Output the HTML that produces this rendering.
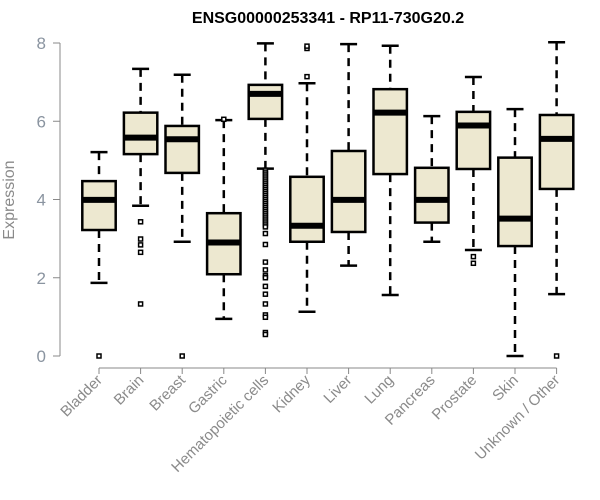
<!DOCTYPE html>
<html><head><meta charset="utf-8"><style>
body{margin:0;background:#fff;}
svg{display:block;font-family:"Liberation Sans",Arial,sans-serif;}
</style></head><body>
<svg id="chart" width="600" height="500" viewBox="0 0 600 500" xmlns="http://www.w3.org/2000/svg">
<text x="328" y="23" text-anchor="middle" font-size="16" font-weight="bold" fill="#000">ENSG00000253341 - RP11-730G20.2</text>
<text transform="translate(14,200) rotate(-90)" text-anchor="middle" font-size="16" fill="#8a8a8a">Expression</text>
<g id="plot"></g>
</svg>
<script>
const categories=["Bladder","Brain","Breast","Gastric","Hematopoietic cells","Kidney","Liver","Lung","Pancreas","Prostate","Skin","Unknown / Other"];
const whiskerLow=[1.87,3.84,2.92,0.95,4.79,1.13,2.31,1.56,2.92,2.71,0.0,1.58];
const q1=[3.22,5.16,4.68,2.09,6.06,2.92,3.17,4.65,3.41,4.78,2.81,4.27];
const medians=[3.99,5.58,5.54,2.90,6.70,3.33,3.99,6.22,3.99,5.89,3.51,5.55];
const q3=[4.47,6.22,5.88,3.65,6.93,4.58,5.24,6.82,4.81,6.24,5.07,6.16];
const whiskerHigh=[5.21,7.34,7.19,6.03,7.99,6.97,7.97,7.93,6.13,7.13,6.31,8.02];
const outliers=[[0],[3.43,2.99,2.84,2.65,1.33],[0],[6.05],
[4.75,4.7,4.65,4.6,4.55,4.5,4.45,4.4,4.35,4.3,4.25,4.2,4.15,4.1,4.05,4.0,3.95,3.9,3.85,3.8,3.75,3.7,3.65,3.6,3.55,3.5,3.45,3.4,3.35,3.3,3.13,2.85,2.4,2.2,2.05,2.0,1.78,1.58,1.33,1.05,0.99,0.6,0.55],
[7.14,7.86,7.92],[],[],[],[2.54,2.37],[],[0]];
const yTicks=[0,2,4,6,8];

const NS="http://www.w3.org/2000/svg";
const g=document.getElementById('plot');
const y=v=>356-v*39.125;
const x=i=>99+i*41.6;
function el(t,a){const e=document.createElementNS(NS,t);for(const k in a)e.setAttribute(k,a[k]);g.appendChild(e);return e;}
let ax=el('line',{x1:60,y1:y(0),x2:60,y2:y(8),stroke:'#888','stroke-width':1});


yTicks.forEach(t=>{
 const tk=el('line',{x1:53,x2:60,y1:y(t),y2:y(t),stroke:'#888'});
 
 
 const tl=el('text',{x:46,y:y(t)+6,'text-anchor':'end','font-size':17,fill:'#8a94a0'});
 tl.textContent=t;
 
 
});
let xa=el('line',{x1:x(0),x2:x(11),y1:368,y2:368,stroke:'#888'});


categories.forEach((c,i)=>{
 const cx=x(i),hw=16.7;
 const tk=el('line',{x1:cx,x2:cx,y1:368,y2:374,stroke:'#888'});
 
 
 const tl=el('text',{x:cx+4,y:381,'text-anchor':'end','font-size':15,fill:'#8a8a8a',transform:`rotate(-45 ${cx+4} 381)`});
 tl.textContent=c;
 
 
 const wu=el('line',{x1:cx,x2:cx,y1:y(whiskerHigh[i]),y2:y(q3[i]),stroke:'#000','stroke-width':2.5,'stroke-dasharray':'8,6'});
 
 
 const wl=el('line',{x1:cx,x2:cx,y1:y(q1[i]),y2:y(whiskerLow[i]),stroke:'#000','stroke-width':2.5,'stroke-dasharray':'8,6'});
 
 
 const cu=el('line',{x1:cx-8.5,x2:cx+8.5,y1:y(whiskerHigh[i]),y2:y(whiskerHigh[i]),stroke:'#000','stroke-width':2.5});
 
 
 const cl=el('line',{x1:cx-8.5,x2:cx+8.5,y1:y(whiskerLow[i]),y2:y(whiskerLow[i]),stroke:'#000','stroke-width':2.5});
 
 
 const b=el('rect',{x:cx-hw,y:y(q3[i]),width:hw*2,height:y(q1[i])-y(q3[i]),fill:'#ede8d0',stroke:'#000','stroke-width':2.5});
 
 
 const m=el('line',{x1:cx-hw,x2:cx+hw,y1:y(medians[i]),y2:y(medians[i]),stroke:'#000','stroke-width':6});
 
 
 outliers[i].forEach(v=>{
  const o=el('rect',{x:cx-2,y:y(v)-2,width:4,height:4,fill:'#fff',stroke:'#000','stroke-width':1.5});
  
  
 });
});
</script>
</body></html>
